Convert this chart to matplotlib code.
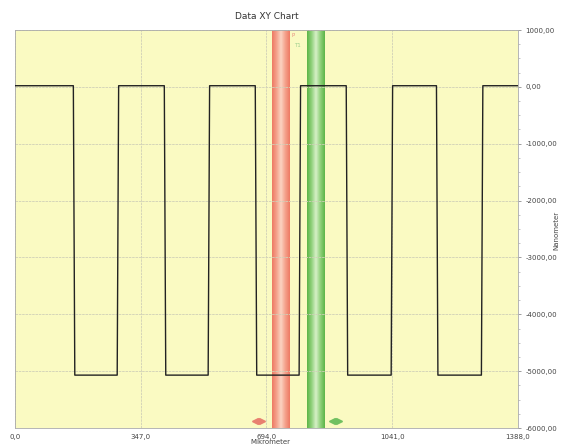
import numpy as np
import matplotlib.pyplot as plt
from matplotlib.ticker import FixedLocator, MultipleLocator

# edges of the square wave (micrometer) and levels (nanometer)
edge_x = [0, 163, 284, 414, 535, 665, 786, 916, 1040, 1165, 1289, 1388]
high_level = 20
low_level = -5070
start_high = True

# cursor bands
red_band = (709, 756)
green_band = (806, 855)
red_arrow_x = 672
green_arrow_x = 885

x_ticks = [0, 347, 694, 1041, 1388]
x_labels = ["0,0", "347,0", "694,0", "1041,0", "1388,0"]
y_ticks = [1000, 0, -1000, -2000, -3000, -4000, -5000, -6000]
y_labels = ["1000,00", "0,00", "-1000,00", "-2000,00", "-3000,00",
            "-4000,00", "-5000,00", "-6000,00"]

fig = plt.figure(figsize=(5.63, 4.47), dpi=100)
ax = fig.add_axes([15 / 563, 1 - 428 / 447, 503 / 563, 398 / 447])
ax.set_facecolor("#fafac2")

# build the wave from the edge list (steep but not perfectly vertical)
xs, ys = [], []
level = high_level if start_high else low_level
xs.append(edge_x[0]); ys.append(level)
for e in edge_x[1:-1]:
    other = low_level if level == high_level else high_level
    xs += [e - 2, e + 2]
    ys += [level, other]
    level = other
xs.append(edge_x[-1]); ys.append(level)

# gradient bands
grad = np.abs(np.linspace(-1, 1, 64))[None, :]
red_cmap = plt.matplotlib.colors.LinearSegmentedColormap.from_list(
    "r", ["#fbd2c0", "#f4a08a", "#ee7a64"])
green_cmap = plt.matplotlib.colors.LinearSegmentedColormap.from_list(
    "g", ["#d4efc4", "#8fd07a", "#5cb548"])
ax.imshow(grad, extent=[red_band[0], red_band[1], -6000, 1000], aspect="auto",
          cmap=red_cmap, zorder=1)
ax.imshow(grad, extent=[green_band[0], green_band[1], -6000, 1000], aspect="auto",
          cmap=green_cmap, zorder=1)
ax.set_xlim(0, 1388)
ax.set_ylim(-6000, 1000)

ax.plot(xs, ys, color="#222222", lw=1.0, zorder=3)

ax.plot([red_arrow_x - 10], [-5880], marker="<", color="#e88070", ms=4, zorder=4)
ax.plot([red_arrow_x + 10], [-5880], marker=">", color="#e88070", ms=4, zorder=4)
ax.plot([green_arrow_x - 10], [-5880], marker="<", color="#70c060", ms=4, zorder=4)
ax.plot([green_arrow_x + 10], [-5880], marker=">", color="#70c060", ms=4, zorder=4)
ax.text(763, 880, "P", color="#e89080", fontsize=4, zorder=4)
ax.text(770, 700, "T1", color="#a0d090", fontsize=4, zorder=4)

ax.xaxis.set_major_locator(FixedLocator(x_ticks))
ax.set_xticklabels(x_labels)
ax.yaxis.set_major_locator(FixedLocator(y_ticks))
ax.set_yticklabels(y_labels)
ax.yaxis.set_minor_locator(MultipleLocator(250))
ax.yaxis.tick_right()
ax.tick_params(axis="both", labelsize=5, colors="#777777", labelcolor="#444444",
               length=2, width=0.5)
ax.tick_params(axis="y", which="minor", length=1.5, width=0.4, colors="#999999")
ax.tick_params(axis="x", length=0, pad=4)
ax.grid(True, color="#d0d0b8", lw=0.6, ls=(0, (3, 1)), zorder=2)
for s in ax.spines.values():
    s.set_color("#aaaaaa")
    s.set_linewidth(0.6)

ax.set_title("Data XY Chart", fontsize=6.5, color="#333333", pad=8)
fig.text(556 / 563, 1 - 230 / 447, "Nanometer", fontsize=5, color="#444444",
         rotation=90, ha="center", va="center")
fig.text(270 / 563, 0.004, "Mikrometer", fontsize=5, color="#444444",
         ha="center", va="bottom")

fig.savefig("out.png", dpi=100, facecolor="white")
